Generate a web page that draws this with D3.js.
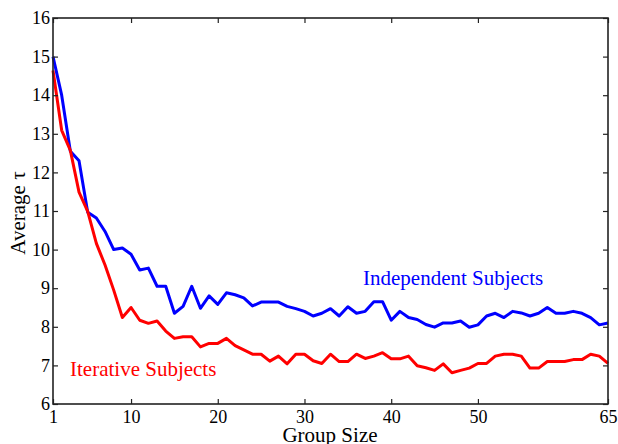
<!DOCTYPE html>
<html>
<head>
<meta charset="utf-8">
<script src="https://cdn.jsdelivr.net/npm/d3@7"></script>
<style>
  body { margin: 0; background: #fff; }
  svg text { font-family: "Liberation Serif", "Times New Roman", Times, serif; }
</style>
</head>
<body>
<div id="chart"></div>
<script>
const groupSize = d3.range(1, 66);
const independent = [15.0, 14.0, 12.55, 12.3, 10.97, 10.82, 10.47, 10.0, 10.04, 9.88,
  9.47, 9.52, 9.05, 9.05, 8.35, 8.53, 9.05, 8.48, 8.8, 8.58,
  8.88, 8.83, 8.75, 8.54, 8.64, 8.64, 8.64, 8.53, 8.47, 8.4,
  8.28, 8.35, 8.47, 8.28, 8.52, 8.35, 8.4, 8.65, 8.65, 8.17,
  8.4, 8.24, 8.19, 8.06, 7.99, 8.1, 8.1, 8.15, 7.99, 8.05,
  8.28, 8.35, 8.24, 8.4, 8.36, 8.28, 8.35, 8.5, 8.35, 8.35,
  8.4, 8.35, 8.24, 8.05, 8.1];
const iterative = [14.64, 13.09, 12.57, 11.49, 10.99, 10.16, 9.6, 8.95, 8.24, 8.5,
  8.17, 8.09, 8.15, 7.89, 7.7, 7.74, 7.74, 7.48, 7.57, 7.57,
  7.7, 7.51, 7.4, 7.29, 7.29, 7.11, 7.24, 7.04, 7.29, 7.29,
  7.12, 7.05, 7.29, 7.1, 7.1, 7.29, 7.18, 7.24, 7.33, 7.17,
  7.17, 7.24, 6.99, 6.94, 6.87, 7.04, 6.81, 6.87, 6.93, 7.05,
  7.05, 7.24, 7.29, 7.29, 7.24, 6.93, 6.93, 7.1, 7.1, 7.1,
  7.15, 7.15, 7.29, 7.24, 7.05];
const xTicks = [1, 10, 20, 30, 40, 50, 65];
const yTicks = d3.range(6, 17);

const serif = '"Liberation Serif", "Times New Roman", serif';
const width = 618, height = 444,
    margin = { top: 18, right: 10, bottom: 40, left: 53 };

const svg = d3.select("#chart")
    .append("svg")
    .attr("width", width)
    .attr("height", height)
    .attr("font-family", serif);

const x = d3.scaleLinear()
    .domain([1, 65])
    .range([margin.left, width - margin.right]);

const y = d3.scaleLinear()
    .domain([6, 16])
    .range([height - margin.bottom, margin.top]);

const line = d3.line()
    .x((d, i) => x(groupSize[i]))
    .y((d) => y(d));

svg.append("path")
    .datum(independent)
    .attr("fill", "none")
    .attr("stroke", "#0000ff")
    .attr("stroke-width", 3)
    .attr("stroke-linejoin", "round")
    .attr("d", line);

svg.append("path")
    .datum(iterative)
    .attr("fill", "none")
    .attr("stroke", "#ff0000")
    .attr("stroke-width", 3)
    .attr("stroke-linejoin", "round")
    .attr("d", line);

// axes, ticks pointing inward on all four sides
function style(g) {
    g.attr("font-family", serif);
    g.select(".domain").remove();
    g.selectAll("line").attr("stroke", "#222").attr("stroke-width", 1.2);
    g.selectAll("text").attr("font-size", "18px").attr("fill", "#000");
}

svg.append("g")
    .attr("transform", `translate(0,${height - margin.bottom})`)
    .call(d3.axisBottom(x).tickValues(xTicks).tickSize(-5).tickPadding(6).tickFormat(d3.format("d")))
    .call(style);

svg.append("g")
    .attr("transform", `translate(0,${margin.top})`)
    .call(d3.axisTop(x).tickValues(xTicks).tickSize(-5).tickFormat(""))
    .call(style);

svg.append("g")
    .attr("transform", `translate(${margin.left},0)`)
    .call(d3.axisLeft(y).tickValues(yTicks).tickSize(-5).tickPadding(3).tickFormat(d3.format("d")))
    .call(style);

svg.append("g")
    .attr("transform", `translate(${width - margin.right},0)`)
    .call(d3.axisRight(y).tickValues(yTicks).tickSize(-5).tickFormat(""))
    .call(style);

svg.append("rect")
    .attr("x", margin.left)
    .attr("y", margin.top)
    .attr("width", width - margin.left - margin.right)
    .attr("height", height - margin.top - margin.bottom)
    .attr("fill", "none")
    .attr("stroke", "#222")
    .attr("stroke-width", 1.6);

svg.append("text")
    .attr("x", 363)
    .attr("y", 285)
    .attr("font-size", "21px")
    .attr("fill", "#0000ff")
    .text("Independent Subjects");

svg.append("text")
    .attr("x", 70)
    .attr("y", 376)
    .attr("font-size", "21px")
    .attr("fill", "#ff0000")
    .text("Iterative Subjects");

svg.append("text")
    .attr("text-anchor", "middle")
    .attr("x", 330)
    .attr("y", 442)
    .attr("font-size", "21px")
    .text("Group Size");

svg.append("text")
    .attr("text-anchor", "middle")
    .attr("transform", "translate(25,213) rotate(-90)")
    .attr("font-size", "21px")
    .text("Average τ");
</script>
</body>
</html>
